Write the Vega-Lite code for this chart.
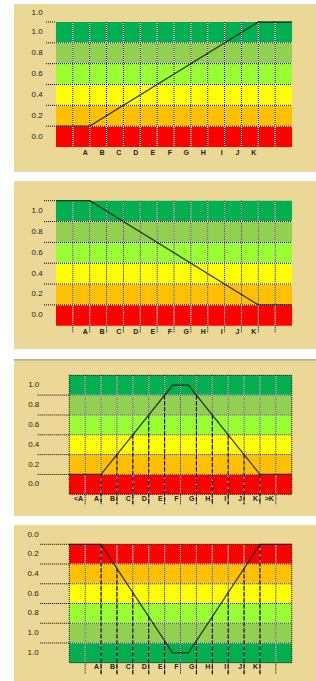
{
"$schema": "https://vega.github.io/schema/vega-lite/v6.json",
"padding": {"left": 13, "top": 4, "right": 0, "bottom": 0},
"spacing": 9,
"config": {"view": {"stroke": null}, "text": {"font": "Liberation Sans"}},
"datasets": {
"bands": [{"lo":0,"hi":1,"up":0,"down":5},{"lo":1,"hi":2,"up":1,"down":4},{"lo":2,"hi":3,"up":2,"down":3},{"lo":3,"hi":4,"up":3,"down":2},{"lo":4,"hi":5,"up":4,"down":1},{"lo":5,"hi":6,"up":5,"down":0}],
"cols": [{"c":1},{"c":2},{"c":3},{"c":4},{"c":5},{"c":6},{"c":7},{"c":8},{"c":9},{"c":10},{"c":11},{"c":12},{"c":13}],
"hlines": [{"h":1},{"h":2},{"h":3},{"h":4},{"h":5}],
"lines": [
{"p":1,"x":0,"y":1,"o":0},{"p":1,"x":2,"y":1,"o":1},{"p":1,"x":12,"y":6,"o":2},{"p":1,"x":14,"y":6,"o":3},
{"p":2,"x":0,"y":6,"o":0},{"p":2,"x":2,"y":6,"o":1},{"p":2,"x":12,"y":1,"o":2},{"p":2,"x":14,"y":1,"o":3},
{"p":3,"x":0,"y":1,"o":0},{"p":3,"x":2,"y":1,"o":1},{"p":3,"x":6.5,"y":5.5,"o":2},{"p":3,"x":7.5,"y":5.5,"o":3},{"p":3,"x":12,"y":1,"o":4},{"p":3,"x":14,"y":1,"o":5},
{"p":4,"x":0,"y":6,"o":0},{"p":4,"x":2,"y":6,"o":1},{"p":4,"x":6.5,"y":0.5,"o":2},{"p":4,"x":7.5,"y":0.5,"o":3},{"p":4,"x":12,"y":6,"o":4},{"p":4,"x":14,"y":6,"o":5}],
"drops": [
{"p":3,"c":2,"y":1},{"p":3,"c":3,"y":2},{"p":3,"c":4,"y":3},{"p":3,"c":5,"y":4},{"p":3,"c":6,"y":5},{"p":3,"c":8,"y":5},{"p":3,"c":9,"y":4},{"p":3,"c":10,"y":3},{"p":3,"c":11,"y":2},{"p":3,"c":12,"y":1},
{"p":4,"c":2,"y":6},{"p":4,"c":3,"y":4.78},{"p":4,"c":4,"y":3.56},{"p":4,"c":5,"y":2.33},{"p":4,"c":6,"y":1.11},{"p":4,"c":8,"y":1.11},{"p":4,"c":9,"y":2.33},{"p":4,"c":10,"y":3.56},{"p":4,"c":11,"y":4.78},{"p":4,"c":12,"y":6}],
"ylabels": [
{"p":1,"v":0.5,"t":"0.0"},{"p":1,"v":1.5,"t":"0.2"},{"p":1,"v":2.5,"t":"0.4"},{"p":1,"v":3.5,"t":"0.6"},{"p":1,"v":4.5,"t":"0.8"},{"p":1,"v":5.5,"t":"1.0"},{"p":1,"v":6.43,"t":"1.0"},
{"p":2,"v":0.5,"t":"0.0"},{"p":2,"v":1.5,"t":"0.2"},{"p":2,"v":2.5,"t":"0.4"},{"p":2,"v":3.5,"t":"0.6"},{"p":2,"v":4.5,"t":"0.8"},{"p":2,"v":5.5,"t":"1.0"},
{"p":3,"v":0.5,"t":"0.0"},{"p":3,"v":1.5,"t":"0.2"},{"p":3,"v":2.5,"t":"0.4"},{"p":3,"v":3.5,"t":"0.6"},{"p":3,"v":4.5,"t":"0.8"},{"p":3,"v":5.5,"t":"1.0"},
{"p":4,"v":0.5,"t":"1.0"},{"p":4,"v":1.5,"t":"1.0"},{"p":4,"v":2.5,"t":"0.8"},{"p":4,"v":3.5,"t":"0.6"},{"p":4,"v":4.5,"t":"0.4"},{"p":4,"v":5.5,"t":"0.2"},{"p":4,"v":6.46,"t":"0.0"}],
"letters": [{"c":2,"t":"A"},{"c":3,"t":"B"},{"c":4,"t":"C"},{"c":5,"t":"D"},{"c":6,"t":"E"},{"c":7,"t":"F"},{"c":8,"t":"G"},{"c":9,"t":"H"},{"c":10,"t":"I"},{"c":11,"t":"J"},{"c":12,"t":"K"}],
"letters3": [{"c":1,"t":"<A"},{"c":2,"t":"A"},{"c":3,"t":"B"},{"c":4,"t":"C"},{"c":5,"t":"D"},{"c":6,"t":"E"},{"c":7,"t":"F"},{"c":8,"t":"G"},{"c":9,"t":"H"},{"c":10,"t":"I"},{"c":11,"t":"J"},{"c":12,"t":"K"},{"c":13,"t":">K"}],
"one": [{}]
},
"vconcat": [
{
"width": 303, "height": 168,
"view": {"fill": "#ECD896", "stroke": null},
"layer": [
{"data": {"name": "bands"}, "mark": {"type": "rect"},
 "encoding": {
  "x": {"datum": 0, "type": "quantitative", "scale": {"domain": [-2.49, 15.48], "nice": false, "zero": false}, "axis": null},
  "x2": {"datum": 14},
  "y": {"field": "lo", "type": "quantitative", "scale": {"domain": [-1.2, 6.864], "nice": false, "zero": false}, "axis": null},
  "y2": {"field": "hi"},
  "color": {"field": "up", "type": "ordinal", "scale": {"domain": [0,1,2,3,4,5], "range": ["#FF0000","#FFC000","#FFFF00","#99FF33","#92D050","#00B050"]}, "legend": null}}},
{"data": {"name": "cols"}, "mark": {"type": "rule", "color": "#FFFFFF", "strokeWidth": 1},
 "encoding": {"x": {"field": "c", "type": "quantitative", "axis": null}, "y": {"datum": 6, "type": "quantitative", "axis": null}, "y2": {"datum": 0}}},
{"data": {"name": "cols"}, "mark": {"type": "rule", "color": "#000000", "strokeWidth": 1, "strokeDash": [1, 1]},
 "encoding": {"x": {"field": "c", "type": "quantitative", "axis": null}, "y": {"datum": 6, "type": "quantitative", "axis": null}, "y2": {"datum": 0}}},
{"data": {"name": "hlines"}, "mark": {"type": "rule", "color": "#FFFFFF", "strokeWidth": 1},
 "encoding": {"y": {"field": "h", "type": "quantitative", "axis": null}, "x": {"datum": 0, "type": "quantitative", "axis": null}, "x2": {"datum": 14}}},
{"data": {"name": "hlines"}, "mark": {"type": "rule", "color": "#000000", "strokeWidth": 1, "strokeDash": [1, 1]},
 "encoding": {"y": {"field": "h", "type": "quantitative", "axis": null}, "x": {"datum": -0.59, "type": "quantitative", "axis": null}, "x2": {"datum": 14}}},
{"data": {"name": "one"}, "mark": {"type": "rule", "color": "#000000", "strokeWidth": 1, "strokeDash": [1, 1]},
 "encoding": {"y": {"datum": 6, "type": "quantitative", "axis": null}, "x": {"datum": -0.59, "type": "quantitative", "axis": null}, "x2": {"datum": 0}}},
{"data": {"name": "lines"}, "transform": [{"filter": "datum.p == 1"}], "mark": {"type": "line", "color": "#1a1a1a", "strokeWidth": 1.3, "opacity": 0.85},
 "encoding": {"x": {"field": "x", "type": "quantitative", "axis": null}, "y": {"field": "y", "type": "quantitative", "axis": null}, "order": {"field": "o"}}},
{"data": {"name": "ylabels"}, "transform": [{"filter": "datum.p == 1"}], "mark": {"type": "text", "align": "right", "baseline": "middle", "fontSize": 8, "color": "#222222"},
 "encoding": {"x": {"datum": -0.79, "type": "quantitative", "axis": null}, "y": {"field": "v", "type": "quantitative", "axis": null}, "text": {"field": "t"}}},
{"data": {"name": "letters"}, "mark": {"type": "text", "align": "right", "baseline": "middle", "fontSize": 7, "fontWeight": "bold", "dx": -2, "color": "#222222"},
 "encoding": {"x": {"field": "c", "type": "quantitative", "axis": null}, "y": {"datum": -0.3, "type": "quantitative", "axis": null}, "text": {"field": "t"}}}
]
},
{
"width": 303, "height": 168,
"view": {"fill": "#ECD896", "stroke": null},
"layer": [
{"data": {"name": "bands"}, "mark": {"type": "rect"},
 "encoding": {
  "x": {"datum": 0, "type": "quantitative", "scale": {"domain": [-2.49, 15.48], "nice": false, "zero": false}, "axis": null},
  "x2": {"datum": 14},
  "y": {"field": "lo", "type": "quantitative", "scale": {"domain": [-1.118, 6.946], "nice": false, "zero": false}, "axis": null},
  "y2": {"field": "hi"},
  "color": {"field": "up", "type": "ordinal", "scale": {"domain": [0,1,2,3,4,5], "range": ["#FF0000","#FFC000","#FFFF00","#99FF33","#92D050","#00B050"]}, "legend": null}}},
{"data": {"name": "cols"}, "mark": {"type": "rule", "color": "#FFFFFF", "strokeWidth": 1},
 "encoding": {"x": {"field": "c", "type": "quantitative", "axis": null}, "y": {"datum": 6, "type": "quantitative", "axis": null}, "y2": {"datum": 0}}},
{"data": {"name": "cols"}, "mark": {"type": "rule", "color": "#000000", "strokeWidth": 1, "strokeDash": [1, 1]},
 "encoding": {"x": {"field": "c", "type": "quantitative", "axis": null}, "y": {"datum": 6, "type": "quantitative", "axis": null}, "y2": {"datum": -0.35}}},
{"data": {"name": "hlines"}, "mark": {"type": "rule", "color": "#FFFFFF", "strokeWidth": 1},
 "encoding": {"y": {"field": "h", "type": "quantitative", "axis": null}, "x": {"datum": 0, "type": "quantitative", "axis": null}, "x2": {"datum": 14}}},
{"data": {"name": "hlines"}, "mark": {"type": "rule", "color": "#000000", "strokeWidth": 1, "strokeDash": [1, 1]},
 "encoding": {"y": {"field": "h", "type": "quantitative", "axis": null}, "x": {"datum": -0.71, "type": "quantitative", "axis": null}, "x2": {"datum": 14}}},
{"data": {"name": "one"}, "mark": {"type": "rule", "color": "#000000", "strokeWidth": 1, "strokeDash": [1, 1]},
 "encoding": {"y": {"datum": 6, "type": "quantitative", "axis": null}, "x": {"datum": -0.71, "type": "quantitative", "axis": null}, "x2": {"datum": 0}}},
{"data": {"name": "lines"}, "transform": [{"filter": "datum.p == 2"}], "mark": {"type": "line", "color": "#1a1a1a", "strokeWidth": 1.3, "opacity": 0.85},
 "encoding": {"x": {"field": "x", "type": "quantitative", "axis": null}, "y": {"field": "y", "type": "quantitative", "axis": null}, "order": {"field": "o"}}},
{"data": {"name": "ylabels"}, "transform": [{"filter": "datum.p == 2"}], "mark": {"type": "text", "align": "right", "baseline": "middle", "fontSize": 8, "color": "#222222"},
 "encoding": {"x": {"datum": -0.79, "type": "quantitative", "axis": null}, "y": {"field": "v", "type": "quantitative", "axis": null}, "text": {"field": "t"}}},
{"data": {"name": "letters"}, "mark": {"type": "text", "align": "right", "baseline": "middle", "fontSize": 7, "fontWeight": "bold", "dx": -2, "color": "#222222"},
 "encoding": {"x": {"field": "c", "type": "quantitative", "axis": null}, "y": {"datum": -0.29, "type": "quantitative", "axis": null}, "text": {"field": "t"}}}
]
},
{
"width": 303, "height": 157,
"view": {"fill": "#ECD896", "stroke": null},
"layer": [
{"data": {"name": "bands"}, "mark": {"type": "rect"},
 "encoding": {
  "x": {"datum": 0, "type": "quantitative", "scale": {"domain": [-3.48, 15.59], "nice": false, "zero": false}, "axis": null},
  "x2": {"datum": 14},
  "y": {"field": "lo", "type": "quantitative", "scale": {"domain": [-1.094, 6.822], "nice": false, "zero": false}, "axis": null},
  "y2": {"field": "hi"},
  "color": {"field": "up", "type": "ordinal", "scale": {"domain": [0,1,2,3,4,5], "range": ["#FF0000","#FFC000","#FFFF00","#99FF33","#92D050","#00B050"]}, "legend": null}}},
{"data": {"name": "one"}, "mark": {"type": "rule", "color": "#999999", "strokeWidth": 1.5, "opacity": 0.7},
 "encoding": {"y": {"datum": 6.79, "type": "quantitative", "axis": null}, "x": {"datum": -3.48, "type": "quantitative", "axis": null}, "x2": {"datum": 15.59}}},
{"data": {"name": "cols"}, "mark": {"type": "rule", "color": "#FFFFFF", "strokeWidth": 1},
 "encoding": {"x": {"field": "c", "type": "quantitative", "axis": null}, "y": {"datum": 6, "type": "quantitative", "axis": null}, "y2": {"datum": 0}}},
{"data": {"name": "cols"}, "mark": {"type": "rule", "color": "#000000", "strokeWidth": 1, "strokeDash": [1, 1]},
 "encoding": {"x": {"field": "c", "type": "quantitative", "axis": null}, "y": {"datum": 6, "type": "quantitative", "axis": null}, "y2": {"datum": -0.5}}},
{"data": {"name": "hlines"}, "mark": {"type": "rule", "color": "#FFFFFF", "strokeWidth": 1},
 "encoding": {"y": {"field": "h", "type": "quantitative", "axis": null}, "x": {"datum": 0, "type": "quantitative", "axis": null}, "x2": {"datum": 14}}},
{"data": {"name": "hlines"}, "mark": {"type": "rule", "color": "#000000", "strokeWidth": 1, "strokeDash": [1, 1]},
 "encoding": {"y": {"field": "h", "type": "quantitative", "axis": null}, "x": {"datum": -1.99, "type": "quantitative", "axis": null}, "x2": {"datum": 14}}},
{"data": {"name": "drops"}, "transform": [{"filter": "datum.p == 3"}], "mark": {"type": "rule", "color": "#000000", "strokeWidth": 1, "strokeDash": [4, 2]},
 "encoding": {"x": {"field": "c", "type": "quantitative", "axis": null}, "y": {"field": "y", "type": "quantitative", "axis": null}, "y2": {"datum": -0.5}}},
{"data": {"name": "one"}, "mark": {"type": "rect", "fill": null, "fillOpacity": 0, "stroke": "#000000", "strokeWidth": 1, "strokeDash": [1, 1]},
 "encoding": {"x": {"datum": 0, "type": "quantitative", "axis": null}, "x2": {"datum": 14}, "y": {"datum": 0, "type": "quantitative", "axis": null}, "y2": {"datum": 6}}},
{"data": {"name": "lines"}, "transform": [{"filter": "datum.p == 3"}], "mark": {"type": "line", "color": "#1a1a1a", "strokeWidth": 1.3, "opacity": 0.85},
 "encoding": {"x": {"field": "x", "type": "quantitative", "axis": null}, "y": {"field": "y", "type": "quantitative", "axis": null}, "order": {"field": "o"}}},
{"data": {"name": "ylabels"}, "transform": [{"filter": "datum.p == 3"}], "mark": {"type": "text", "align": "right", "baseline": "middle", "fontSize": 8, "color": "#222222"},
 "encoding": {"x": {"datum": -1.89, "type": "quantitative", "axis": null}, "y": {"field": "v", "type": "quantitative", "axis": null}, "text": {"field": "t"}}},
{"data": {"name": "letters3"}, "mark": {"type": "text", "align": "right", "baseline": "middle", "fontSize": 7, "fontWeight": "bold", "dx": -2, "color": "#222222"},
 "encoding": {"x": {"field": "c", "type": "quantitative", "axis": null}, "y": {"datum": -0.24, "type": "quantitative", "axis": null}, "text": {"field": "t"}}}
]
},
{
"width": 303, "height": 157,
"view": {"fill": "#ECD896", "stroke": null},
"layer": [
{"data": {"name": "bands"}, "mark": {"type": "rect"},
 "encoding": {
  "x": {"datum": 0, "type": "quantitative", "scale": {"domain": [-3.48, 15.59], "nice": false, "zero": false}, "axis": null},
  "x2": {"datum": 14},
  "y": {"field": "lo", "type": "quantitative", "scale": {"domain": [-0.978, 6.978], "nice": false, "zero": false}, "axis": null},
  "y2": {"field": "hi"},
  "color": {"field": "down", "type": "ordinal", "scale": {"domain": [0,1,2,3,4,5], "range": ["#FF0000","#FFC000","#FFFF00","#99FF33","#92D050","#00B050"]}, "legend": null}}},
{"data": {"name": "cols"}, "mark": {"type": "rule", "color": "#FFFFFF", "strokeWidth": 1},
 "encoding": {"x": {"field": "c", "type": "quantitative", "axis": null}, "y": {"datum": 6, "type": "quantitative", "axis": null}, "y2": {"datum": 0}}},
{"data": {"name": "cols"}, "mark": {"type": "rule", "color": "#000000", "strokeWidth": 1, "strokeDash": [1, 1]},
 "encoding": {"x": {"field": "c", "type": "quantitative", "axis": null}, "y": {"datum": 6, "type": "quantitative", "axis": null}, "y2": {"datum": -0.59}}},
{"data": {"name": "hlines"}, "mark": {"type": "rule", "color": "#FFFFFF", "strokeWidth": 1},
 "encoding": {"y": {"field": "h", "type": "quantitative", "axis": null}, "x": {"datum": 0, "type": "quantitative", "axis": null}, "x2": {"datum": 14}}},
{"data": {"name": "hlines"}, "mark": {"type": "rule", "color": "#000000", "strokeWidth": 1, "strokeDash": [1, 1]},
 "encoding": {"y": {"field": "h", "type": "quantitative", "axis": null}, "x": {"datum": -1.83, "type": "quantitative", "axis": null}, "x2": {"datum": 14}}},
{"data": {"name": "one"}, "mark": {"type": "rule", "color": "#000000", "strokeWidth": 1, "strokeDash": [1, 1]},
 "encoding": {"y": {"datum": 6, "type": "quantitative", "axis": null}, "x": {"datum": -1.83, "type": "quantitative", "axis": null}, "x2": {"datum": 0}}},
{"data": {"name": "drops"}, "transform": [{"filter": "datum.p == 4"}], "mark": {"type": "rule", "color": "#000000", "strokeWidth": 1, "strokeDash": [4, 2]},
 "encoding": {"x": {"field": "c", "type": "quantitative", "axis": null}, "y": {"field": "y", "type": "quantitative", "axis": null}, "y2": {"datum": -0.59}}},
{"data": {"name": "one"}, "mark": {"type": "rect", "fill": null, "fillOpacity": 0, "stroke": "#000000", "strokeWidth": 1, "strokeDash": [1, 1]},
 "encoding": {"x": {"datum": 0, "type": "quantitative", "axis": null}, "x2": {"datum": 14}, "y": {"datum": 0, "type": "quantitative", "axis": null}, "y2": {"datum": 6}}},
{"data": {"name": "lines"}, "transform": [{"filter": "datum.p == 4"}], "mark": {"type": "line", "color": "#1a1a1a", "strokeWidth": 1.3, "opacity": 0.85},
 "encoding": {"x": {"field": "x", "type": "quantitative", "axis": null}, "y": {"field": "y", "type": "quantitative", "axis": null}, "order": {"field": "o"}}},
{"data": {"name": "ylabels"}, "transform": [{"filter": "datum.p == 4"}], "mark": {"type": "text", "align": "right", "baseline": "middle", "fontSize": 8, "color": "#222222"},
 "encoding": {"x": {"datum": -1.93, "type": "quantitative", "axis": null}, "y": {"field": "v", "type": "quantitative", "axis": null}, "text": {"field": "t"}}},
{"data": {"name": "letters"}, "mark": {"type": "text", "align": "right", "baseline": "middle", "fontSize": 7, "fontWeight": "bold", "dx": -2, "color": "#222222"},
 "encoding": {"x": {"field": "c", "type": "quantitative", "axis": null}, "y": {"datum": -0.22, "type": "quantitative", "axis": null}, "text": {"field": "t"}}}
]
}
]
}
